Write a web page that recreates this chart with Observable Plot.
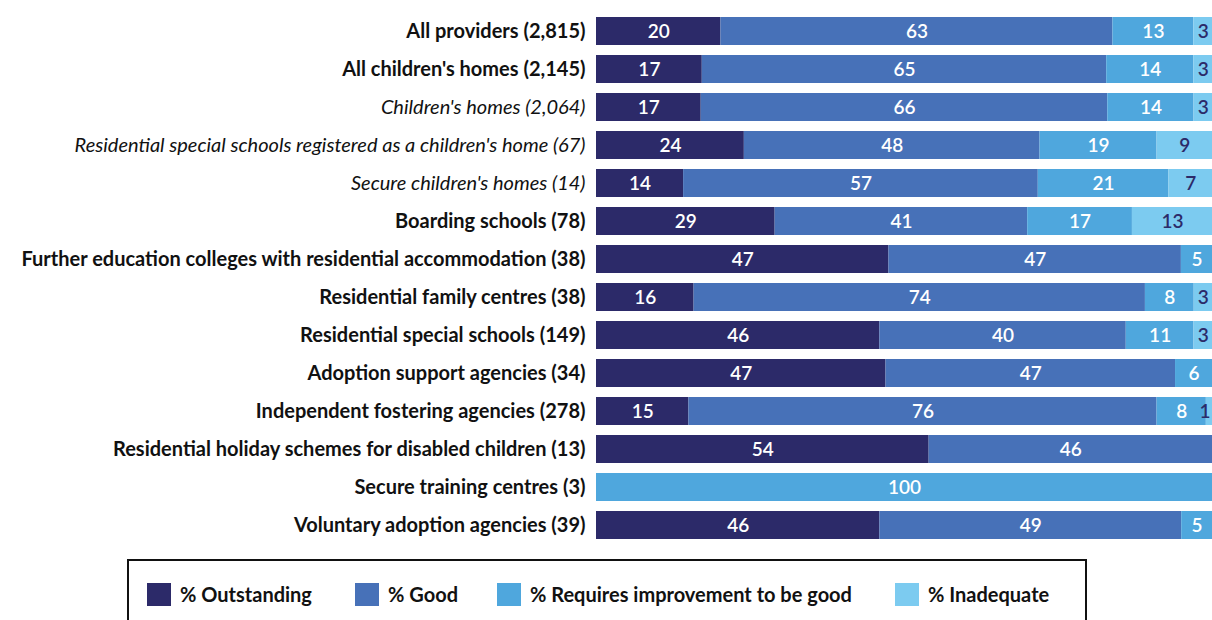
<!DOCTYPE html>
<html>
<head>
<meta charset="utf-8">
<script src="https://cdn.jsdelivr.net/npm/d3@7"></script>
<script src="https://cdn.jsdelivr.net/npm/@observablehq/plot@0.6"></script>
<style>
  html, body { margin: 0; padding: 0; background: #fff; overflow: hidden; }
  body { width: 1212px; height: 620px; position: relative; font-family: Lato, "Open Sans", sans-serif; }
  #chart { position: absolute; left: 0; top: 0; }
  #legend { position: absolute; left: 127px; top: 559px; width: 956px; height: 80px; border: 2px solid #111; box-sizing: content-box; }
  .item { position: absolute; top: 21px; height: 24px; display: flex; align-items: center; font-size: 20px; font-weight: bold; color: #111; white-space: nowrap; }
  .sw { width: 24px; height: 23px; margin-right: 9px; display: inline-block; }
</style>
</head>
<body>
<div id="chart"></div>
<div id="legend"></div>
<script>
const categories = [
  "All providers (2,815)",
  "All children's homes (2,145)",
  "Children's homes (2,064)",
  "Residential special schools registered as a children's home (67)",
  "Secure children's homes (14)",
  "Boarding schools (78)",
  "Further education colleges with residential accommodation (38)",
  "Residential family centres (38)",
  "Residential special schools (149)",
  "Adoption support agencies (34)",
  "Independent fostering agencies (278)",
  "Residential holiday schemes for disabled children (13)",
  "Secure training centres (3)",
  "Voluntary adoption agencies (39)"
];
const italicCategories = [
  "Children's homes (2,064)",
  "Residential special schools registered as a children's home (67)",
  "Secure children's homes (14)"
];
const ratings = ["% Outstanding", "% Good", "% Requires improvement to be good", "% Inadequate"];
const outstanding = [20, 17, 17, 24, 14, 29, 47, 16, 46, 47, 15, 54, 0, 46];
const good        = [63, 65, 66, 48, 57, 41, 47, 74, 40, 47, 76, 46, 0, 49];
const requiresImp = [13, 14, 14, 19, 21, 17, 5, 8, 11, 6, 8, 0, 100, 5];
const inadequate  = [3, 3, 3, 9, 7, 13, 0, 3, 3, 0, 1, 0, 0, 0];
const colors = ["#2c2a69", "#4771b8", "#4fa7dd", "#7ccbf0"];
const labelColors = ["#ffffff", "#ffffff", "#ffffff", "#2c2a69"];

const series = [outstanding, good, requiresImp, inadequate];
const data = [];
categories.forEach((c, i) => {
  const total = d3.sum(series, s => s[i]);
  let acc = 0;
  ratings.forEach((r, j) => {
    const v = series[j][i];
    const x1 = acc / total, x2 = (acc + v) / total;
    acc += v;
    data.push({category: c, rating: r, value: v, x1, x2, mid: Math.min((x1 + x2) / 2, 0.988)});
  });
});

const chart = Plot.plot({
  width: 1212,
  height: 558,
  marginLeft: 596,
  marginRight: 0,
  marginTop: 2,
  marginBottom: 4,
  style: {fontFamily: "Lato, 'Open Sans', sans-serif", background: "#fff"},
  x: {axis: null, domain: [0, 1]},
  y: {axis: null, domain: categories, padding: 0.276},
  color: {domain: ratings, range: colors},
  marks: [
    Plot.barX(data, {x1: "x1", x2: "x2", y: "category", fill: "rating"}),
    Plot.text(data.filter(d => d.value > 0), {
      x: "mid", y: "category",
      text: d => String(d.value),
      fill: d => labelColors[ratings.indexOf(d.rating)],
      fontSize: 19,
      fontWeight: 600
    }),
    Plot.text(categories.filter(c => !italicCategories.includes(c)), {
      y: d => d, frameAnchor: "left", dx: -11, textAnchor: "end",
      fontSize: 20, fontWeight: "bold", fill: "#111"
    }),
    Plot.text(italicCategories, {
      y: d => d, frameAnchor: "left", dx: -11, textAnchor: "end",
      fontSize: 20, fontStyle: "italic", fill: "#111"
    })
  ]
});
document.getElementById("chart").appendChild(chart);

const legendX = [18, 226, 368, 766];
const legend = document.getElementById("legend");
ratings.forEach((r, i) => {
  const it = document.createElement("div");
  it.className = "item";
  it.style.left = legendX[i] + "px";
  const sw = document.createElement("span");
  sw.className = "sw";
  sw.style.background = colors[i];
  it.appendChild(sw);
  it.appendChild(document.createTextNode(r));
  legend.appendChild(it);
});
</script>
</body>
</html>
